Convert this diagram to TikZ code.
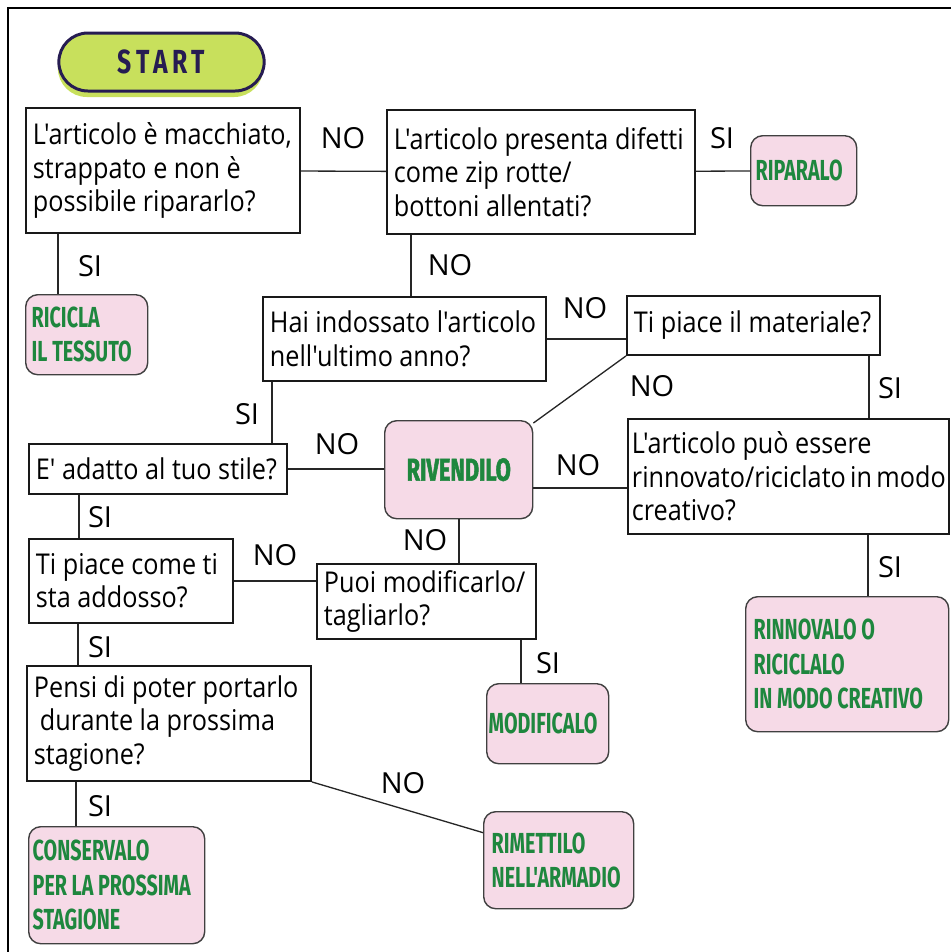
\documentclass[tikz,border=0pt]{standalone}
\usepackage{fontspec}
\setmainfont{Open Sans}[Ligatures=TeXOff]
\newfontfamily\testo[FakeStretch=0.88,Ligatures=TeXOff]{Open Sans}
\newfontfamily\etichetta[FakeStretch=0.68]{Fira Sans}
\newfontfamily\etichettaforte[FakeStretch=0.69,FakeBold=1.6]{Fira Sans}
\newfontfamily\partenza[FakeStretch=0.74,LetterSpace=14]{Fira Sans}
\usetikzlibrary{shapes.misc,shadows}
\definecolor{verdescuro}{RGB}{30,135,62}
\definecolor{rosa}{RGB}{246,218,231}
\definecolor{lime}{RGB}{200,224,92}
\definecolor{blu}{RGB}{38,28,82}
\begin{document}
\begin{tikzpicture}[
        domanda/.style={draw=black!90, line width=1.1pt, anchor=north west, align=flush left,
        inner xsep=0.14cm, font=\testo\fontsize{16.3}{19}\selectfont},
        esito/.style={draw=black!75, line width=0.8pt, rounded corners=0.24cm, fill=rosa,
        anchor=north west, align=flush left, inner xsep=0.1cm, text=verdescuro,
        font=\etichetta\bfseries\fontsize{16.5}{19.5}\selectfont},
        pillola/.style={rounded rectangle, draw=blu, line width=1.7pt, fill=lime, text=blu,
        minimum width=4.34cm, minimum height=1.16cm,
        font=\partenza\bfseries\fontsize{19}{20}\selectfont,
        drop shadow={shadow xshift=-0.02cm, shadow yshift=-0.12cm, fill=lime, opacity=1}},
        risposta/.style={font=\fontsize{16.5}{19}\selectfont},
        linea/.style={line width=0.75pt, draw=black!85}
    ]
        \useasboundingbox (0,0) rectangle (19.02,-19.04);
        \draw[line width=1.6pt] (0.16,-19.3) -- (0.16,-0.16) -- (19.3,-0.16);
        \node[pillola] (start) at (3.23,-1.24) {START};
        \node[domanda, minimum width=5.48cm, minimum height=2.50cm, text width=5.20cm] (macchiato) at (0.50,-2.14) {L'articolo è macchiato,\\strappato e non è\\possibile ripararlo?};
        \node[domanda, minimum width=6.16cm, minimum height=2.48cm, text width=5.88cm] (difetti) at (7.72,-2.18) {L'articolo presenta difetti\\come zip rotte/\\bottoni allentati?};
        \node[esito, minimum width=2.12cm, minimum height=1.40cm, text width=1.92cm] (riparalo) at (15.00,-2.70) {RIPARALO};
        \node[esito, minimum width=2.44cm, minimum height=1.60cm, inner xsep=0.12cm, text width=2.20cm] (ricicla) at (0.50,-5.88) {RICICLA\\IL TESSUTO};
        \node[domanda, minimum width=5.66cm, minimum height=1.68cm, text width=5.38cm] (indossato) at (5.24,-5.92) {Hai indossato l'articolo\\nell'ultimo anno?};
        \node[domanda, minimum width=5.06cm, minimum height=1.18cm, text width=4.78cm] (materiale) at (12.52,-5.90) {Ti piace il materiale?};
        \node[esito, minimum width=2.96cm, minimum height=1.96cm, text width=2.76cm, align=center, font=\etichettaforte\bfseries\fontsize{18}{19.5}\selectfont] (rivendilo) at (7.68,-8.40) {RIVENDILO};
        \node[domanda, minimum width=5.16cm, minimum height=1.00cm, text width=4.88cm] (stile) at (0.56,-8.86) {E' adatto al tuo stile?};
        \node[domanda, minimum width=6.42cm, minimum height=2.30cm, inner xsep=0.08cm, text width=6.26cm] (creativo) at (12.54,-8.36) {L'articolo può essere\\rinnovato/riciclato~in~modo\\creativo?};
        \node[domanda, minimum width=4.08cm, minimum height=1.68cm, text width=3.80cm] (addosso) at (0.56,-10.76) {Ti piace come ti\\sta addosso?};
        \node[domanda, minimum width=4.38cm, minimum height=1.50cm, text width=4.10cm] (tagliarlo) at (6.32,-11.26) {Puoi modificarlo/\\tagliarlo?};
        \node[esito, minimum width=2.44cm, minimum height=1.60cm, inner xsep=0.04cm, text width=2.36cm] (modificalo) at (9.72,-13.66) {MODIFICALO};
        \node[esito, minimum width=4.06cm, minimum height=2.70cm, inner xsep=0.16cm, text width=3.74cm] (rinnovalo) at (14.90,-11.92) {RINNOVALO O\\RICICLALO\\IN MODO CREATIVO};
        \node[domanda, minimum width=5.68cm, minimum height=2.30cm, text width=5.40cm] (stagione) at (0.52,-13.30) {Pensi di poter portarlo\\\hspace{0.12cm}durante la prossima\\stagione?};
        \node[esito, minimum width=3.52cm, minimum height=2.34cm, inner xsep=0.08cm, text width=3.36cm] (conservalo) at (0.56,-16.52) {CONSERVALO\\PER LA PROSSIMA\\STAGIONE};
        \node[esito, minimum width=3.00cm, minimum height=1.94cm, inner xsep=0.16cm, text width=2.68cm] (rimettilo) at (9.66,-16.22) {RIMETTILO\\NELL'ARMADIO};
        % risposte
        \node[risposta] (no1) at (6.86,-2.76) {NO};
        \node[risposta] (si1) at (14.44,-2.76) {SI};
        \node[risposta] (si2) at (1.80,-5.32) {SI};
        \node[risposta] (no2) at (9.00,-5.30) {NO};
        \node[risposta] (no3) at (11.70,-6.16) {NO};
        \node[risposta] (no4) at (13.04,-7.72) {NO};
        \node[risposta] (si3) at (17.80,-7.76) {SI};
        \node[risposta] (si4) at (4.94,-8.28) {SI};
        \node[risposta] (no5) at (6.74,-8.88) {NO};
        \node[risposta] (no6) at (11.56,-9.30) {NO};
        \node[risposta] (si5) at (2.00,-10.34) {SI};
        \node[risposta] (si6) at (17.80,-11.34) {SI};
        \node[risposta] (no7) at (5.50,-11.10) {NO};
        \node[risposta] (no8) at (8.50,-10.80) {NO};
        \node[risposta] (si7) at (2.00,-12.94) {SI};
        \node[risposta] (si8) at (10.96,-13.26) {SI};
        \node[risposta] (no9) at (8.06,-15.66) {NO};
        \node[risposta] (si9) at (2.00,-16.12) {SI};
        % collegamenti
        \draw[linea] (macchiato) -- (difetti);
        \draw[linea] (difetti) -- (riparalo);
        \draw[linea] (macchiato.south -| 1.16,0) -- (ricicla.north -| 1.16,0);
        \draw[linea] (difetti.south -| 8.22,0) -- (indossato.north -| 8.22,0);
        \draw[linea] (indossato.east) -- (indossato.east -| materiale.west);
        \draw[linea] (materiale.south west) -- (rivendilo.32);
        \draw[linea] (materiale.south -| 17.38,0) -- (creativo.north -| 17.38,0);
        \draw[linea] (indossato.south -| 5.44,0) -- (stile.north -| 5.44,0);
        \draw[linea] (stile.east) -- (stile.east -| rivendilo.west);
        \draw[linea] (rivendilo.east |- 0,-9.76) -- (creativo.west |- 0,-9.76);
        \draw[linea] (stile.south -| 1.58,0) -- (addosso.north -| 1.58,0);
        \draw[linea] (creativo.south -| 17.36,0) -- (rinnovalo.north -| 17.36,0);
        \draw[linea] (addosso.east) -- (addosso.east -| tagliarlo.west);
        \draw[linea] (rivendilo.south -| 9.18,0) -- (tagliarlo.north -| 9.18,0);
        \draw[linea] (tagliarlo.south -| 10.42,0) -- (modificalo.north -| 10.42,0);
        \draw[linea] (addosso.south -| 1.56,0) -- (stagione.north -| 1.56,0);
        \draw[linea] (stagione.south -| 1.52,0) -- (conservalo.north -| 1.52,0);
        \draw[linea] (stagione.south east) -- (rimettilo.160);
    \end{tikzpicture}
\end{document}
